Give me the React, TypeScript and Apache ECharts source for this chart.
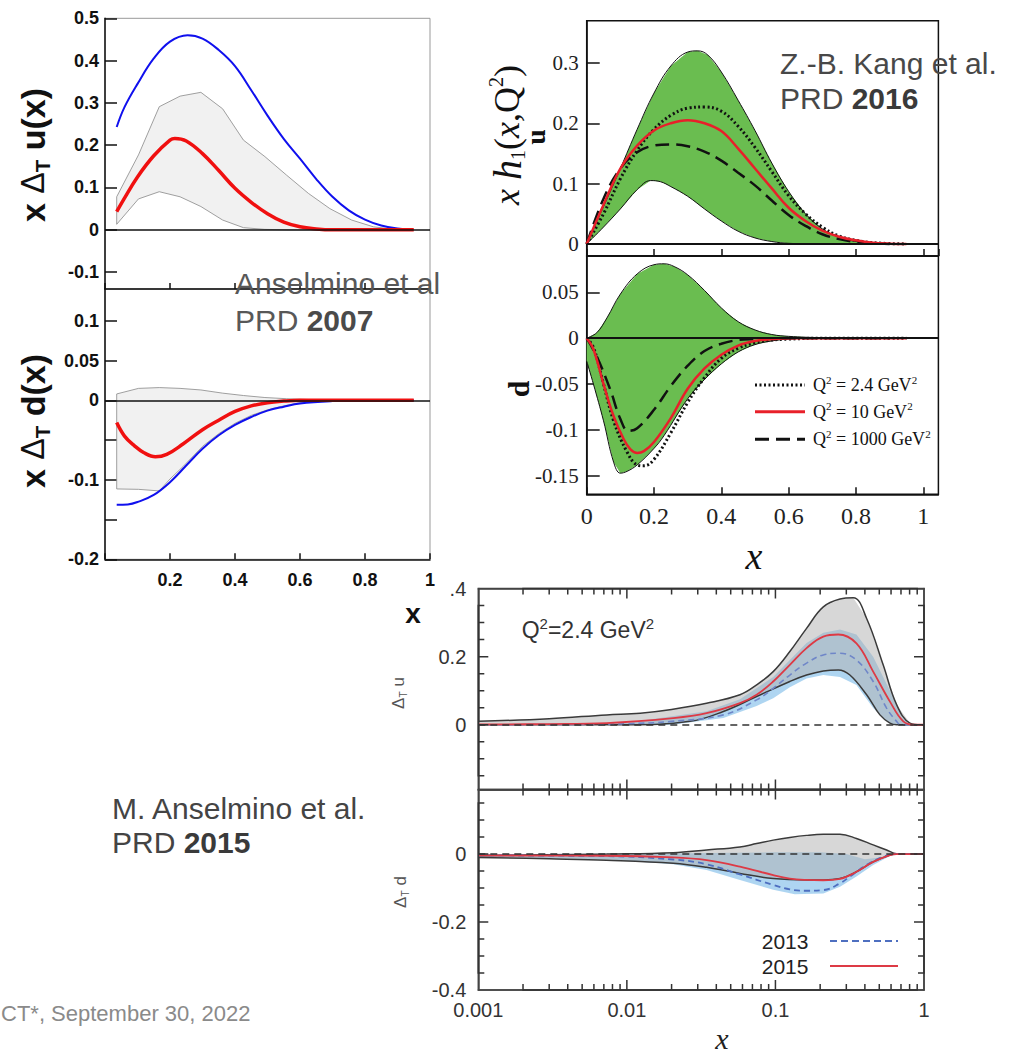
import React, { useEffect, useRef } from "react";
import * as echarts from "echarts";

type P = [number, number];

const SANS = "'Liberation Sans', Arial, Helvetica, sans-serif";
const SERIF = "'Liberation Serif', 'Times New Roman', Times, serif";

// ---------- Top-left: Anselmino et al. PRD 2007 ----------
const tlUBlue: P[] = [[0.036,0.243],[0.06,0.29],[0.1,0.345],[0.15,0.405],[0.2,0.445],[0.254,0.46],[0.3,0.452],[0.35,0.425],[0.4,0.387],[0.45,0.33],[0.5,0.27],[0.55,0.215],[0.6,0.168],[0.65,0.12],[0.7,0.078],[0.75,0.046],[0.8,0.024],[0.85,0.01],[0.9,0.003],[0.948,0]];
const tlURed: P[] = [[0.036,0.043],[0.06,0.075],[0.1,0.125],[0.15,0.175],[0.2,0.212],[0.215,0.216],[0.25,0.21],[0.3,0.18],[0.35,0.14],[0.4,0.098],[0.45,0.065],[0.5,0.038],[0.55,0.018],[0.6,0.007],[0.65,0.002],[0.7,0],[0.95,0]];
const tlUBandHi: P[] = [[0.036,0.078],[0.103,0.177],[0.167,0.291],[0.231,0.316],[0.295,0.325],[0.362,0.286],[0.426,0.212],[0.492,0.173],[0.559,0.129],[0.626,0.086],[0.692,0.05],[0.759,0.023],[0.826,0.007],[0.892,0.001],[0.948,0]];
const tlUBandLo: P[] = [[0.036,0.013],[0.103,0.073],[0.167,0.09],[0.231,0.078],[0.295,0.055],[0.362,0.023],[0.426,0.005],[0.492,0.001],[0.56,0],[0.948,0]];
const tlDBlue: P[] = [[0.036,-0.1315],[0.07,-0.131],[0.1,-0.128],[0.15,-0.119],[0.2,-0.103],[0.25,-0.082],[0.3,-0.061],[0.35,-0.044],[0.4,-0.031],[0.45,-0.021],[0.5,-0.013],[0.55,-0.008],[0.6,-0.004],[0.7,-0.001],[0.8,0],[0.95,0]];
const tlDRed: P[] = [[0.036,-0.028],[0.06,-0.045],[0.09,-0.057],[0.12,-0.066],[0.155,-0.071],[0.19,-0.068],[0.24,-0.055],[0.3,-0.037],[0.35,-0.025],[0.4,-0.014],[0.45,-0.007],[0.5,-0.003],[0.55,-0.001],[0.6,0],[0.95,0]];
const tlDBandHi: P[] = [[0.036,0.008],[0.103,0.015],[0.167,0.016],[0.231,0.015],[0.295,0.013],[0.362,0.009],[0.426,0.006],[0.492,0.0035],[0.559,0.002],[0.626,0.001],[0.7,0],[0.948,0]];
const tlDBandLo: P[] = [[0.036,-0.1115],[0.103,-0.112],[0.167,-0.114],[0.2,-0.099],[0.241,-0.083],[0.3,-0.058],[0.35,-0.042],[0.4,-0.029],[0.45,-0.019],[0.5,-0.012],[0.55,-0.007],[0.6,-0.003],[0.65,-0.0015],[0.7,-0.0005],[0.75,0],[0.948,0]];

// ---------- Top-right: Z.-B. Kang et al. PRD 2016 ----------
const trUBandHi: P[] = [[0,0],[0.05,0.062],[0.1,0.125],[0.15,0.19],[0.2,0.25],[0.25,0.295],[0.3,0.318],[0.33,0.32],[0.36,0.313],[0.4,0.285],[0.45,0.238],[0.5,0.188],[0.55,0.134],[0.6,0.087],[0.65,0.05],[0.7,0.025],[0.75,0.011],[0.8,0.004],[0.85,0.0012],[0.9,0.0003],[0.95,0]];
const trUBandLo: P[] = [[0,0],[0.05,0.028],[0.1,0.058],[0.15,0.09],[0.19,0.105],[0.22,0.103],[0.25,0.095],[0.3,0.079],[0.35,0.058],[0.4,0.038],[0.45,0.021],[0.5,0.01],[0.55,0.004],[0.6,0.001],[0.7,0],[0.95,0]];
const trUQ24: P[] = [[0,0],[0.05,0.05],[0.1,0.108],[0.15,0.155],[0.2,0.19],[0.25,0.213],[0.3,0.225],[0.35,0.227],[0.4,0.22],[0.45,0.195],[0.5,0.16],[0.55,0.12],[0.6,0.08],[0.65,0.05],[0.7,0.028],[0.75,0.013],[0.8,0.006],[0.85,0.002],[0.95,0]];
const trUQ10: P[] = [[0,0],[0.05,0.065],[0.1,0.125],[0.15,0.163],[0.2,0.188],[0.25,0.2],[0.3,0.205],[0.35,0.2],[0.4,0.187],[0.45,0.158],[0.5,0.125],[0.55,0.092],[0.6,0.06],[0.65,0.038],[0.7,0.022],[0.75,0.012],[0.8,0.006],[0.85,0.002],[0.9,0.0005],[0.95,0]];
const trUQ1000: P[] = [[0,0],[0.05,0.075],[0.1,0.125],[0.15,0.152],[0.2,0.163],[0.25,0.165],[0.3,0.162],[0.35,0.153],[0.4,0.138],[0.45,0.118],[0.5,0.097],[0.55,0.072],[0.6,0.048],[0.65,0.03],[0.7,0.016],[0.75,0.008],[0.8,0.003],[0.85,0.001],[0.9,0]];
const trDBandHi: P[] = [[0,0],[0.03,0.006],[0.06,0.022],[0.1,0.048],[0.15,0.07],[0.2,0.08],[0.23,0.081],[0.26,0.078],[0.3,0.069],[0.35,0.052],[0.4,0.033],[0.45,0.018],[0.5,0.009],[0.55,0.004],[0.6,0.002],[0.7,0.0005],[0.8,0],[0.95,0]];
const trDBandLo: P[] = [[0,-0.025],[0.02,-0.05],[0.05,-0.09],[0.08,-0.135],[0.1,-0.147],[0.12,-0.145],[0.15,-0.138],[0.2,-0.12],[0.23,-0.106],[0.3,-0.066],[0.35,-0.045],[0.4,-0.028],[0.45,-0.015],[0.5,-0.007],[0.55,-0.003],[0.6,-0.001],[0.7,0],[0.95,0]];
const trDQ24: P[] = [[0,0],[0.02,-0.01],[0.05,-0.05],[0.08,-0.09],[0.12,-0.124],[0.15,-0.138],[0.17,-0.139],[0.2,-0.132],[0.25,-0.103],[0.3,-0.07],[0.35,-0.043],[0.4,-0.022],[0.45,-0.011],[0.5,-0.005],[0.55,-0.002],[0.6,-0.001],[0.7,0],[0.95,0]];
const trDQ10: P[] = [[0,0],[0.02,-0.012],[0.05,-0.05],[0.08,-0.085],[0.11,-0.11],[0.13,-0.121],[0.15,-0.125],[0.17,-0.123],[0.2,-0.113],[0.25,-0.087],[0.3,-0.055],[0.35,-0.033],[0.4,-0.018],[0.45,-0.008],[0.5,-0.003],[0.55,-0.001],[0.6,0],[0.95,0]];
const trDQ1000: P[] = [[0,0],[0.03,-0.02],[0.07,-0.056],[0.1,-0.088],[0.124,-0.101],[0.15,-0.098],[0.2,-0.078],[0.25,-0.052],[0.3,-0.03],[0.35,-0.014],[0.4,-0.006],[0.45,-0.002],[0.5,-0.001],[0.55,0],[0.9,0]];
const trLegendLabels = ["2.4", "10", "1000"];

// ---------- Bottom: M. Anselmino et al. PRD 2015 (log x) ----------
const bUBandHi: P[] = [[0.001,0.01],[0.003,0.018],[0.0073,0.029],[0.0123,0.034],[0.02,0.045],[0.0344,0.063],[0.0577,0.088],[0.0747,0.117],[0.0966,0.156],[0.125,0.215],[0.162,0.283],[0.21,0.346],[0.272,0.369],[0.334,0.373],[0.411,0.312],[0.531,0.176],[0.654,0.059],[0.804,0.005],[0.96,0],[1,0]];
const bUBandLo: P[] = [[0.001,0],[0.01,0],[0.0266,0.01],[0.0446,0.039],[0.0747,0.083],[0.125,0.127],[0.162,0.146],[0.21,0.158],[0.265,0.161],[0.317,0.146],[0.411,0.088],[0.505,0.029],[0.59,0.005],[0.654,0],[1,0]];
const bUBlueHi: P[] = [[0.001,0.002],[0.01,0.006],[0.0344,0.04],[0.0577,0.075],[0.0966,0.14],[0.125,0.19],[0.162,0.24],[0.21,0.27],[0.272,0.28],[0.351,0.265],[0.455,0.2],[0.59,0.1],[0.7,0.025],[0.8,0],[1,0]];
const bUBlueLo: P[] = [[0.001,0],[0.02,0],[0.0446,0.02],[0.0747,0.055],[0.0966,0.078],[0.125,0.11],[0.162,0.136],[0.21,0.146],[0.272,0.14],[0.351,0.117],[0.455,0.049],[0.56,0.01],[0.62,0],[1,0]];
const bU2015: P[] = [[0.001,0.001],[0.003,0.002],[0.0073,0.005],[0.0205,0.0195],[0.0344,0.034],[0.0577,0.0635],[0.0747,0.088],[0.0966,0.127],[0.125,0.176],[0.162,0.225],[0.21,0.259],[0.265,0.265],[0.351,0.239],[0.455,0.156],[0.59,0.068],[0.725,0.01],[0.86,0],[1,0]];
const bU2013: P[] = [[0.001,0],[0.005,0.001],[0.01,0.003],[0.02,0.01],[0.0446,0.029],[0.0747,0.073],[0.0966,0.107],[0.125,0.146],[0.162,0.181],[0.21,0.205],[0.272,0.21],[0.351,0.19],[0.455,0.127],[0.56,0.049],[0.654,0.01],[0.7,0],[1,0]];
const bDBandHi: P[] = [[0.001,-0.005],[0.003,-0.002],[0.0073,0],[0.0205,0.004],[0.0344,0.012],[0.0577,0.021],[0.0747,0.031],[0.0966,0.041],[0.125,0.049],[0.162,0.055],[0.21,0.058],[0.272,0.058],[0.351,0.046],[0.455,0.027],[0.56,0.012],[0.654,0.001],[0.75,0],[1,0]];
const bDBandLo: P[] = [[0.001,-0.01],[0.003,-0.014],[0.0073,-0.018],[0.0205,-0.027],[0.0344,-0.039],[0.0577,-0.057],[0.0966,-0.072],[0.162,-0.076],[0.21,-0.076],[0.272,-0.072],[0.351,-0.052],[0.455,-0.023],[0.59,-0.003],[0.654,0],[1,0]];
const bDBlueHi: P[] = [[0.001,0],[0.02,0.002],[0.05,0.004],[0.1,0.005],[0.2,0.005],[0.3,0],[0.4,-0.015],[0.5,-0.01],[0.6,-0.002],[0.7,0],[1,0]];
const bDBlueLo: P[] = [[0.001,-0.008],[0.0073,-0.015],[0.0205,-0.03],[0.0344,-0.047],[0.0577,-0.076],[0.0966,-0.105],[0.135,-0.118],[0.21,-0.116],[0.272,-0.096],[0.351,-0.066],[0.455,-0.032],[0.59,-0.006],[0.7,0],[1,0]];
const bD2015: P[] = [[0.001,-0.004],[0.0073,-0.005],[0.0205,-0.01],[0.0344,-0.018],[0.0577,-0.037],[0.0966,-0.062],[0.125,-0.072],[0.162,-0.076],[0.21,-0.077],[0.272,-0.073],[0.351,-0.052],[0.455,-0.023],[0.59,-0.003],[0.654,0],[1,0]];
const bD2013: P[] = [[0.001,-0.004],[0.0073,-0.006],[0.0205,-0.016],[0.0344,-0.03],[0.0577,-0.06],[0.0966,-0.091],[0.125,-0.104],[0.162,-0.108],[0.21,-0.106],[0.272,-0.086],[0.317,-0.066],[0.411,-0.032],[0.531,-0.008],[0.654,0],[1,0]];

// tick positions of the bottom (log) plot
const logMajorTicks = [0.01, 0.1];
const logMinorTicks = [0.002,0.003,0.004,0.005,0.006,0.007,0.008,0.009,0.02,0.03,0.04,0.05,0.06,0.07,0.08,0.09,0.2,0.3,0.4,0.5,0.6,0.7,0.8,0.9];
const logTickLabels = ["0.001", "0.01", "0.1", "1"];
const bUYMajor = [0, 0.2];
const bUYMinor = [-0.15, -0.1, -0.05, 0.05, 0.1, 0.15, 0.25, 0.3, 0.35];
const bDYMajor = [-0.2, 0];
const bDYMinor = [-0.35, -0.3, -0.25, -0.15, -0.1, -0.05, 0.05, 0.1, 0.15];

// ---------- helpers ----------
function lineS(data: P[], xi: number, yi: number, color: string, width: number, type: any = "solid", z = 3, extra: any = {}) {
  return {
    type: "line", xAxisIndex: xi, yAxisIndex: yi, data, symbol: "none", showSymbol: false,
    smooth: 0.4, silent: true, z,
    lineStyle: { color, width, type, cap: "butt" }, ...extra,
  };
}
function bandS(hi: P[], lo: P[], xi: number, yi: number, fill: string, stroke: string | null, lw: number, z = 1) {
  return {
    type: "custom", xAxisIndex: xi, yAxisIndex: yi, data: [hi[0]], silent: true, z,
    renderItem: (_p: any, api: any) => {
      const pts = hi.concat(lo.slice().reverse()).map((p) => api.coord(p));
      const style: any = { fill };
      if (stroke) { style.stroke = stroke; style.lineWidth = lw; }
      return { type: "polygon", shape: { points: pts }, style };
    },
  };
}
// one polyline of tick marks along one edge of a panel
function edgeTicksS(xi: number, yi: number, axis: "x" | "y", edgeVal: number, dir: number,
  major: number[], minor: number[], anchor: P) {
  return {
    type: "custom", xAxisIndex: xi, yAxisIndex: yi, silent: true, z: 8,
    data: [anchor],
    renderItem: (_p: any, api: any) => {
      const items = major.map((v) => [v, 10]).concat(minor.map((v) => [v, 6]));
      items.sort((a, b) => a[0] - b[0]);
      const pts: number[][] = [];
      items.forEach(([v, len]) => {
        const p = axis === "x" ? api.coord([v, edgeVal]) : api.coord([edgeVal, v]);
        pts.push([p[0], p[1]]);
        if (axis === "x") pts.push([p[0], p[1] + dir * len]);
        else pts.push([p[0] + dir * len, p[1]]);
        pts.push([p[0], p[1]]);
      });
      return { type: "polyline", shape: { points: pts }, style: { stroke: "#333", lineWidth: 1.5, fill: null } };
    },
  };
}
const zeroLine = (color: string, width: number, type: any) => ({
  silent: true, symbol: ["none", "none"], label: { show: false },
  lineStyle: { color, width, type }, data: [{ yAxis: 0 }],
});
function txt(x: number, y: number, text: string, st: any, extra: any = {}) {
  return {
    type: "text", x, y, z: 100, silent: true,
    style: { text, align: "left", verticalAlign: "middle", textAlign: "left", textVerticalAlign: "middle", ...st },
    ...extra,
  };
}
function hline(x1: number, x2: number, y: number, color: string, width: number, dash: any = null) {
  const style: any = { stroke: color, lineWidth: width };
  if (dash) style.lineDash = dash;
  return { type: "line", z: 100, silent: true, shape: { x1, y1: y, x2, y2: y }, style };
}

const hide = { show: false };
const tlLine = { show: true, onZero: false, lineStyle: { color: "#111", width: 1.5 } };
const trLine = { show: true, onZero: false, lineStyle: { color: "#111", width: 1.5 } };
const bLine = { show: true, onZero: false, lineStyle: { color: "#444", width: 1.5 } };
const tlTick = (len: number) => ({ show: true, inside: true, length: len, lineStyle: { color: "#111", width: 1.5 } });
const tlLab = { fontFamily: SANS, fontWeight: "bold", fontSize: 18, color: "#111" };
const trTick = (len: number) => ({ show: true, inside: true, length: len, lineStyle: { color: "#111", width: 1.5 } });
const trLab = { fontFamily: SERIF, fontSize: 21, color: "#222" };
const bLab = { fontFamily: SANS, fontSize: 20, color: "#333" };
const bYFmt = (v: number) => {
  const r = Math.round(v * 100) / 100;
  if (Math.abs(r - 0.4) < 1e-6) return ".4";
  if (Math.abs(r * 10 - Math.round(r * 10)) > 1e-6) return "";
  return r === 0 ? "0" : String(r);
};
const logFmt = (v: number) => logTickLabels[Math.round(Math.log10(v)) + 3] ?? "";

function buildOption(): any {
  const xAxis = [
    { gridIndex: 0, type: "value", min: 0, max: 1, interval: 0.2, axisLine: tlLine, axisTick: tlTick(6), axisLabel: hide, splitLine: hide },
    { gridIndex: 1, type: "value", min: 0, max: 1, interval: 0.2, axisLine: tlLine, axisTick: tlTick(6),
      axisLabel: { ...tlLab, margin: 12, formatter: (v: number) => (v === 0 ? "" : String(Math.round(v * 10) / 10)) }, splitLine: hide },
    { gridIndex: 2, type: "value", min: 0, max: 1.045, interval: 0.2, axisLine: trLine, axisTick: trTick(7), axisLabel: hide, splitLine: hide },
    { gridIndex: 3, type: "value", min: 0, max: 1.045, interval: 0.2, axisLine: trLine, axisTick: trTick(7),
      axisLabel: { fontFamily: SERIF, fontSize: 24, color: "#222", margin: 10, showMaxLabel: false,
        formatter: (v: number) => (v > 1.01 ? "" : String(Math.round(v * 10) / 10)) }, splitLine: hide },
    { gridIndex: 4, type: "log", logBase: 10, min: 0.001, max: 1, position: "bottom", axisLine: bLine, axisTick: hide, axisLabel: hide, splitLine: hide },
    { gridIndex: 4, type: "log", logBase: 10, min: 0.001, max: 1, position: "top", axisLine: bLine, axisTick: hide, axisLabel: hide, splitLine: hide },
    { gridIndex: 5, type: "log", logBase: 10, min: 0.001, max: 1, position: "bottom", axisLine: bLine, axisTick: hide,
      axisLabel: { ...bLab, margin: 10, formatter: logFmt }, splitLine: hide },
    { gridIndex: 5, type: "log", logBase: 10, min: 0.001, max: 1, position: "top", axisLine: bLine, axisTick: hide, axisLabel: hide, splitLine: hide },
  ];
  const yAxis = [
    { gridIndex: 0, type: "value", min: -0.14, max: 0.5, splitNumber: 6, axisLine: tlLine, axisTick: tlTick(12),
      axisLabel: { ...tlLab, margin: 6, showMinLabel: false }, splitLine: hide },
    { gridIndex: 1, type: "value", min: -0.2, max: 0.14, interval: 0.05, axisLine: tlLine, axisTick: tlTick(12),
      axisLabel: { ...tlLab, margin: 6, showMaxLabel: false,
        formatter: (v: number) => { const r = Math.round(v * 100); if (r === -5 || r === -15 || r === 14) return ""; return String(r / 100); } },
      splitLine: hide },
    { gridIndex: 2, type: "value", min: -0.02, max: 0.37, splitNumber: 4, axisLine: trLine, axisTick: trTick(13),
      axisLabel: { ...trLab, margin: 8, showMinLabel: false, showMaxLabel: false }, splitLine: hide },
    { gridIndex: 3, type: "value", min: -0.17, max: 0.0895, splitNumber: 5, axisLine: trLine, axisTick: trTick(13),
      axisLabel: { ...trLab, margin: 8, showMinLabel: false, showMaxLabel: false }, splitLine: hide },
    { gridIndex: 4, type: "value", min: -0.19, max: 0.4, splitNumber: 3, position: "left", axisLine: bLine, axisTick: hide,
      axisLabel: { ...bLab, margin: 12, showMinLabel: false, formatter: bYFmt }, splitLine: hide },
    { gridIndex: 4, type: "value", min: -0.19, max: 0.4, splitNumber: 3, position: "right", axisLine: bLine, axisTick: hide,
      axisLabel: hide, splitLine: hide },
    { gridIndex: 5, type: "value", min: -0.4, max: 0.19, splitNumber: 3, position: "left", axisLine: bLine, axisTick: hide,
      axisLabel: { ...bLab, margin: 12, showMaxLabel: false, formatter: bYFmt }, splitLine: hide },
    { gridIndex: 5, type: "value", min: -0.4, max: 0.19, splitNumber: 3, position: "right", axisLine: bLine, axisTick: hide,
      axisLabel: hide, splitLine: hide },
  ];
  const grid = [
    { left: 105, top: 18.3, width: 325, height: 270.7, show: true, borderColor: "#999", borderWidth: 1, backgroundColor: "transparent" },
    { left: 105, top: 289, width: 325, height: 270.3, show: true, borderColor: "#999", borderWidth: 1, backgroundColor: "transparent" },
    { left: 586.7, top: 20.7, width: 351.7, height: 235.3, show: true, borderColor: "#111", borderWidth: 1.5, backgroundColor: "transparent" },
    { left: 586.7, top: 256, width: 351.7, height: 238.3, show: true, borderColor: "#111", borderWidth: 1.5, backgroundColor: "transparent" },
    { left: 478.3, top: 588.5, width: 445.7, height: 201, show: true, borderColor: "#444", borderWidth: 1.5, backgroundColor: "transparent" },
    { left: 478.3, top: 789.5, width: 445.7, height: 200.5, show: true, borderColor: "#444", borderWidth: 1.5, backgroundColor: "transparent" },
  ];

  const green = "#6abd50";
  const series: any[] = [
    // top-left
    bandS(tlUBandHi, tlUBandLo, 0, 0, "#f1f1f1", "#888", 0.8, 1),
    lineS(tlUBlue, 0, 0, "#1010ee", 2, "solid", 3, { markLine: zeroLine("#111", 1.5, "solid") }),
    lineS(tlURed, 0, 0, "#f01010", 3.5),
    bandS(tlDBandHi, tlDBandLo, 1, 1, "#f1f1f1", "#888", 0.8, 1),
    lineS(tlDBlue, 1, 1, "#1010ee", 2, "solid", 3, { markLine: zeroLine("#111", 1.5, "solid") }),
    lineS(tlDRed, 1, 1, "#f01010", 3.5),
    // top-right u
    bandS(trUBandHi, trUBandLo, 2, 2, green, null, 0, 1),
    lineS(trUBandHi, 2, 2, "#111", 1, "solid", 2),
    lineS(trUBandLo, 2, 2, "#111", 1, "solid", 2, { markLine: zeroLine("#111", 2, "solid") }),
    lineS(trUQ24, 2, 2, "#111", 3, [2, 2.5], 3),
    lineS(trUQ10, 2, 2, "#e8202a", 2.5, "solid", 4),
    lineS(trUQ1000, 2, 2, "#111", 2.5, [14, 7], 3),
    // top-right d
    bandS(trDBandHi, trDBandLo, 3, 3, green, null, 0, 1),
    lineS(trDBandHi, 3, 3, "#111", 1, "solid", 2),
    lineS(trDBandLo, 3, 3, "#111", 1, "solid", 2, { markLine: zeroLine("#111", 2, "solid") }),
    lineS(trDQ24, 3, 3, "#111", 3, [2, 2.5], 3),
    lineS(trDQ10, 3, 3, "#e8202a", 2.5, "solid", 4),
    lineS(trDQ1000, 3, 3, "#111", 2.5, [14, 7], 3),
    // bottom u
    bandS(bUBlueHi, bUBlueLo, 4, 4, "rgba(140,195,235,0.7)", null, 0, 1),
    bandS(bUBandHi, bUBandLo, 4, 4, "rgba(175,175,175,0.5)", null, 0, 1),
    lineS(bUBandHi, 4, 4, "#3a3a3a", 1.5, "solid", 2),
    lineS(bUBandLo, 4, 4, "#3a3a3a", 1.5, "solid", 2, { markLine: zeroLine("#333", 1.5, [7, 5]) }),
    lineS(bU2013, 4, 4, "#6f86c8", 1.6, [6, 4], 3),
    lineS(bU2015, 4, 4, "#dd3a45", 1.8, "solid", 4),
    edgeTicksS(4, 4, "x", -0.19, -1, logMajorTicks, logMinorTicks, [0.05, 0.1]),
    edgeTicksS(4, 4, "x", 0.4, 1, logMajorTicks, logMinorTicks, [0.05, 0.1]),
    edgeTicksS(4, 4, "y", 0.001, 1, bUYMajor, bUYMinor, [0.05, 0.1]),
    edgeTicksS(4, 4, "y", 1, -1, bUYMajor, bUYMinor, [0.05, 0.1]),
    // bottom d
    bandS(bDBlueHi, bDBlueLo, 6, 6, "rgba(140,195,235,0.7)", null, 0, 1),
    bandS(bDBandHi, bDBandLo, 6, 6, "rgba(175,175,175,0.5)", null, 0, 1),
    lineS(bDBandHi, 6, 6, "#3a3a3a", 1.5, "solid", 2),
    lineS(bDBandLo, 6, 6, "#3a3a3a", 1.5, "solid", 2, { markLine: zeroLine("#333", 1.5, [7, 5]) }),
    lineS(bD2013, 6, 6, "#4e6fc0", 1.8, [6, 4], 3),
    lineS(bD2015, 6, 6, "#dd3a45", 1.8, "solid", 4),
    edgeTicksS(6, 6, "x", -0.4, -1, logMajorTicks, logMinorTicks, [0.05, -0.1]),
    edgeTicksS(6, 6, "x", 0.19, 1, logMajorTicks, logMinorTicks, [0.05, -0.1]),
    edgeTicksS(6, 6, "y", 0.001, 1, bDYMajor, bDYMinor, [0.05, -0.1]),
    edgeTicksS(6, 6, "y", 1, -1, bDYMajor, bDYMinor, [0.05, -0.1]),
  ];

  const subRich = (size: number, family: string, color: string, weight = "normal") => ({
    b: { fontFamily: family, fontWeight: weight, fontSize: size, fill: color, lineHeight: size * 1.2, verticalAlign: "middle" },
    d: { fontFamily: family, fontWeight: "normal", fontSize: size * 0.95, fill: color, lineHeight: size * 1.2, verticalAlign: "middle" },
    s: { fontFamily: family, fontWeight: weight, fontSize: size * 0.6, fill: color, lineHeight: size * 0.6, verticalAlign: "bottom" },
  });

  const trLeg = (y: number, label: string) =>
    txt(813, y, `Q{p|2} = ${label} GeV{p|2}`, {
      fontFamily: SERIF, fontSize: 18, fill: "#111",
      rich: {
        p: { fontFamily: SERIF, fontSize: 11, fill: "#111", verticalAlign: "top", lineHeight: 22 },
      },
    });

  const graphic = [
    // top-left titles
    txt(33, 155, "{b|x }{d|Δ}{s|T}{b| u(x)}", { align: "center", textAlign: "center", rich: subRich(34, SANS, "#111", "bold") }, { rotation: Math.PI / 2 }),
    txt(33, 421, "{b|x }{d|Δ}{s|T}{b| d(x)}", { align: "center", textAlign: "center", rich: subRich(34, SANS, "#111", "bold") }, { rotation: Math.PI / 2 }),
    txt(413, 613, "x", { align: "center", textAlign: "center", fontFamily: SANS, fontWeight: "bold", fontSize: 28, fill: "#111" }),
    txt(235, 283, "Anselmino et al", { fontFamily: SANS, fontSize: 30, fill: "#585858" }),
    txt(235, 320, "{n|PRD }{b|2007}", {
      fontFamily: SANS, fontSize: 30, fill: "#585858",
      rich: { n: { fontFamily: SANS, fontSize: 30, fill: "#585858" }, b: { fontFamily: SANS, fontSize: 30, fontWeight: "bold", fill: "#4a4a4a" } },
    }),
    // top-right titles
    txt(507, 135, "{i|x }{h|h}{s|1}{n|(}{i|x}{n|,Q}{p|2}{n|)}", {
      align: "center", textAlign: "center",
      rich: {
        i: { fontFamily: SERIF, fontStyle: "italic", fontSize: 36, fill: "#111", lineHeight: 42, verticalAlign: "middle" },
        h: { fontFamily: SERIF, fontStyle: "italic", fontSize: 40, fill: "#111", lineHeight: 42, verticalAlign: "middle" },
        n: { fontFamily: SERIF, fontSize: 36, fill: "#111", lineHeight: 42, verticalAlign: "middle" },
        s: { fontFamily: SERIF, fontSize: 20, fill: "#111", lineHeight: 20, verticalAlign: "bottom" },
        p: { fontFamily: SERIF, fontSize: 20, fill: "#111", lineHeight: 20, verticalAlign: "top" },
      },
    }, { rotation: Math.PI / 2 }),
    txt(535, 137, "u", { align: "center", textAlign: "center", fontFamily: SERIF, fontWeight: "bold", fontSize: 28, fill: "#111" }, { rotation: Math.PI / 2 }),
    txt(518, 389, "d", { align: "center", textAlign: "center", fontFamily: SERIF, fontWeight: "bold", fontSize: 30, fill: "#111" }, { rotation: Math.PI / 2 }),
    txt(754, 556, "x", { align: "center", textAlign: "center", fontFamily: SERIF, fontStyle: "italic", fontSize: 38, fill: "#111" }),
    txt(780, 63, "Z.-B. Kang et al.", { fontFamily: SANS, fontSize: 30, fill: "#484848" }),
    txt(780, 98, "{n|PRD }{b|2016}", {
      fontFamily: SANS, fontSize: 30, fill: "#484848",
      rich: { n: { fontFamily: SANS, fontSize: 30, fill: "#484848" }, b: { fontFamily: SANS, fontSize: 30, fontWeight: "bold", fill: "#3a3a3a" } },
    }),
    // top-right legend
    hline(755, 805, 385, "#111", 3, [2, 2.5]),
    hline(755, 805, 411.7, "#e8202a", 3),
    hline(755, 805, 439.3, "#111", 3, [14, 7]),
    trLeg(385, trLegendLabels[0]),
    trLeg(411.7, trLegendLabels[1]),
    trLeg(439.3, trLegendLabels[2]),
    // bottom plot texts
    txt(521.7, 630, "Q{p|2}=2.4 GeV{p|2}", {
      fontFamily: SANS, fontSize: 23, fill: "#333",
      rich: { p: { fontFamily: SANS, fontSize: 15, fill: "#333", verticalAlign: "top", lineHeight: 28 } },
    }),
    txt(398, 693, "{b|Δ}{s|T}{b| u}", { align: "center", textAlign: "center", rich: subRich(17, SANS, "#555") }, { rotation: Math.PI / 2 }),
    txt(400, 892, "{b|Δ}{s|T}{b| d}", { align: "center", textAlign: "center", rich: subRich(17, SANS, "#555") }, { rotation: Math.PI / 2 }),
    txt(722, 1038, "x", { align: "center", textAlign: "center", fontFamily: SERIF, fontStyle: "italic", fontSize: 30, fill: "#222" }),
    txt(761.7, 941.7, "2013", { fontFamily: SANS, fontSize: 21, fill: "#222" }),
    txt(761.7, 966.7, "2015", { fontFamily: SANS, fontSize: 21, fill: "#222" }),
    hline(830, 898, 941, "#4e6fc0", 2, [7, 4]),
    hline(830, 898, 966, "#dd3a45", 2),
    txt(112, 808, "M. Anselmino et al.", { fontFamily: SANS, fontSize: 30, fill: "#444" }),
    txt(112, 842, "{n|PRD }{b|2015}", {
      fontFamily: SANS, fontSize: 30, fill: "#444",
      rich: { n: { fontFamily: SANS, fontSize: 30, fill: "#444" }, b: { fontFamily: SANS, fontSize: 30, fontWeight: "bold", fill: "#3a3a3a" } },
    }),
    txt(1, 1013, "CT*, September 30, 2022", { fontFamily: SANS, fontSize: 22, fill: "#8a8a8a" }),
  ];

  return {
    animation: false,
    backgroundColor: "#ffffff",
    textStyle: { fontFamily: SANS },
    grid, xAxis, yAxis, series, graphic,
  };
}

export default function App() {
  const ref = useRef<HTMLDivElement>(null);
  useEffect(() => {
    if (!ref.current) return;
    const chart = echarts.init(ref.current, null, { renderer: "svg" });
    chart.setOption(buildOption());
    return () => chart.dispose();
  }, []);
  return (
    <div
      ref={ref}
      style={{ position: "absolute", left: 0, top: 0, width: 1013, height: 1056, background: "#fff" }}
    />
  );
}
